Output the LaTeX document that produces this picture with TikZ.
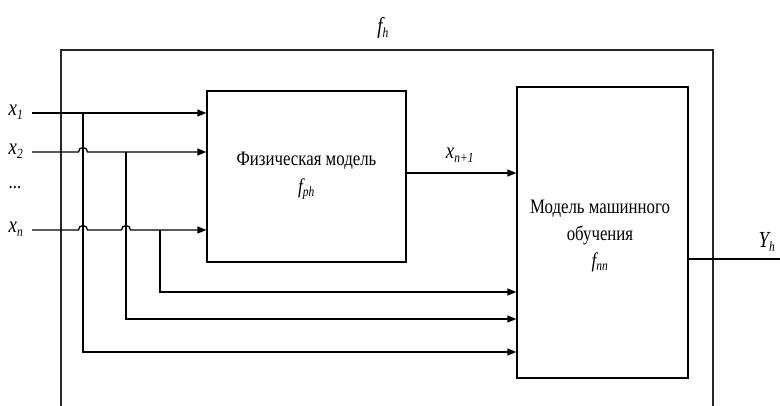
\documentclass[tikz,border=0pt]{standalone}
\usepackage{fontspec}
\setmainfont{Liberation Serif}[FakeStretch=0.82]
\usetikzlibrary{arrows.meta}
\tikzset{
  wire/.style={line width=1.3pt, black},
  arr/.style={wire, -{Triangle[length=9pt,width=7pt]}},
  blockbox/.style={draw, line width=1.3pt, inner sep=0pt},
  rtext/.style={inner sep=0pt, font=\fontsize{20.5}{24}\selectfont},
  var/.style={inner sep=0pt, font=\fontsize{23}{26}\selectfont\itshape}
}
\newcommand{\vsub}[2]{#1\textsubscript{\fontsize{14}{14}\selectfont #2}}
\begin{document}
\begin{tikzpicture}[x=1pt,y=-1pt]
\clip (0,0) rectangle (780,406);
% outer box
\draw[line width=1.3pt, black!85] (61,420) -- (61,50) -- (713,50) -- (713,420);
\node[var] (fh) at (383,28) {\vsub{f}{h}};
% blocks
\node[blockbox, minimum width=199pt, minimum height=171pt] (phys) at (306.5,176.5) {};
\node[rtext] (physt) at (306.5,161) {Физическая модель};
\node[var, font=\fontsize{21}{22}\selectfont\itshape] (fph) at (306.5,189) {\vsub{f}{ph}};
\node[blockbox, minimum width=171pt, minimum height=291pt] (ml) at (602.5,232.5) {};
\node[rtext] (mlt1) at (600,209) {Модель машинного};
\node[rtext] (mlt2) at (600,235) {обучения};
\node[var, font=\fontsize{21}{22}\selectfont\itshape] (fnn) at (600,262) {\vsub{f}{nn}};
% input labels
\node[var] (lx1) at (16,112) {\vsub{x}{1}};
\node[var] (lx2) at (16,151) {\vsub{x}{2}};
\node[rtext] (ldots) at (15,188) {...};
\node[var] (lxn) at (16,229) {\vsub{x}{n}};
% input starts
\coordinate (in1) at (32,113);
\coordinate (in2) at (32,152);
\coordinate (inn) at (32,230);
% branch points
\coordinate (b1) at (83,113);
\coordinate (b2) at (126,152);
\coordinate (bn) at (160,230);
% inputs to physical model
\draw[arr] (in1) -- (phys.west |- in1);
\draw[arr] (in2) -- ([xshift=-4.5pt]b1 |- in2) arc[start angle=180, end angle=0, radius=4.5pt] -- (phys.west |- in2);
\draw[arr] (inn) -- ([xshift=-4.5pt]b1 |- inn) arc[start angle=180, end angle=0, radius=4.5pt]
  -- ([xshift=-4.5pt]b2 |- inn) arc[start angle=180, end angle=0, radius=4.5pt] -- (phys.west |- inn);
% branches to ML model
\coordinate (c1) at (83,352);
\coordinate (c2) at (126,319);
\coordinate (cn) at (160,292);
\draw[arr] (b1) -- (c1) -- (ml.west |- c1);
\draw[arr] (b2) -- (c2) -- (ml.west |- c2);
\draw[arr] (bn) -- (cn) -- (ml.west |- cn);
% physical to ML
\coordinate (p1) at (406,173);
\draw[arr] (p1) -- (ml.west |- p1);
\node[var] (lxn1) at (460,155) {\vsub{x}{n+1}};
% output
\coordinate (out) at (780,259);
\draw[wire] (ml.east |- out) -- (out);
\node[var] (ly) at (767,242) {\vsub{Y}{h}};
\end{tikzpicture}
\end{document}
